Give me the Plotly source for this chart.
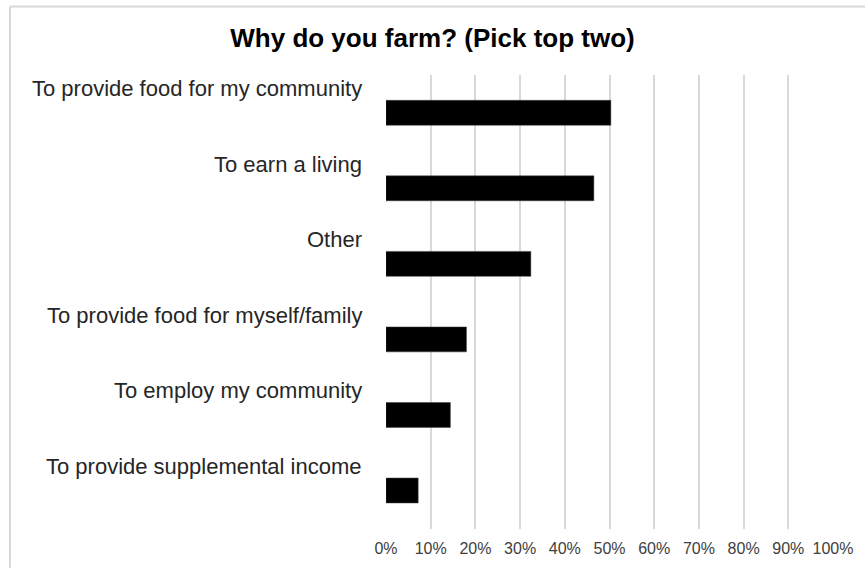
import plotly.graph_objects as go

categories = [
    "To provide food for my community",
    "To earn a living",
    "Other",
    "To provide food for myself/family",
    "To employ my community",
    "To provide supplemental income",
]
values = [0.503, 0.465, 0.324, 0.18, 0.144, 0.072]
tick_vals = [i / 10 for i in range(11)]
tick_text = [f"{i*10}%" for i in range(11)]
title_text = "Why do you farm? (Pick top two)"

FONT = "Liberation Sans, Arial, sans-serif"

fig = go.Figure(
    go.Bar(
        x=values,
        y=categories,
        orientation="h",
        marker=dict(color="#000000", line=dict(color="#404040", width=0.5)),
        width=0.33,
    )
)

annotations = [
    dict(
        x=0, xref="paper", xanchor="right", xshift=-22,
        y=c, yref="y", yanchor="middle", yshift=24,
        text=c, showarrow=False,
        font=dict(family=FONT, size=22, color="#262626"),
    )
    for c in categories
]

fig.update_layout(
    width=865, height=569,
    margin=dict(l=386, r=32, t=75, b=37),
    paper_bgcolor="white", plot_bgcolor="white",
    showlegend=False,
    title=dict(
        text=title_text, x=0.5, xanchor="center", y=1 - 38 / 569, yanchor="middle",
        font=dict(family=FONT, size=26, color="#000000", weight="bold"),
    ),
    annotations=annotations,
    shapes=[
        dict(type="line", xref="paper", yref="paper",
             x0=(10 - 386) / 447, x1=(866 - 386) / 447,
             y0=1 + (75 - 6) / 457, y1=1 + (75 - 6) / 457,
             line=dict(color="#d9d9d9", width=2)),
        dict(type="line", xref="paper", yref="paper",
             x0=(10 - 386) / 447, x1=(10 - 386) / 447,
             y0=1 + (75 - 6) / 457, y1=-(37 + 2) / 457,
             line=dict(color="#d9d9d9", width=2)),
    ],
)

fig.update_xaxes(
    range=[0, 1.0], tickvals=tick_vals, ticktext=tick_text,
    showgrid=True, gridcolor="#d9d9d9", gridwidth=1.5,
    zeroline=False, showline=False,
    tickfont=dict(family=FONT, size=16, color="#404040"),
    ticks="", ticklabelstandoff=8,
)
fig.update_yaxes(
    categoryorder="array", categoryarray=categories, autorange="reversed",
    showticklabels=False, showgrid=False, zeroline=False, showline=False,
)

fig.write_html("out.html")
